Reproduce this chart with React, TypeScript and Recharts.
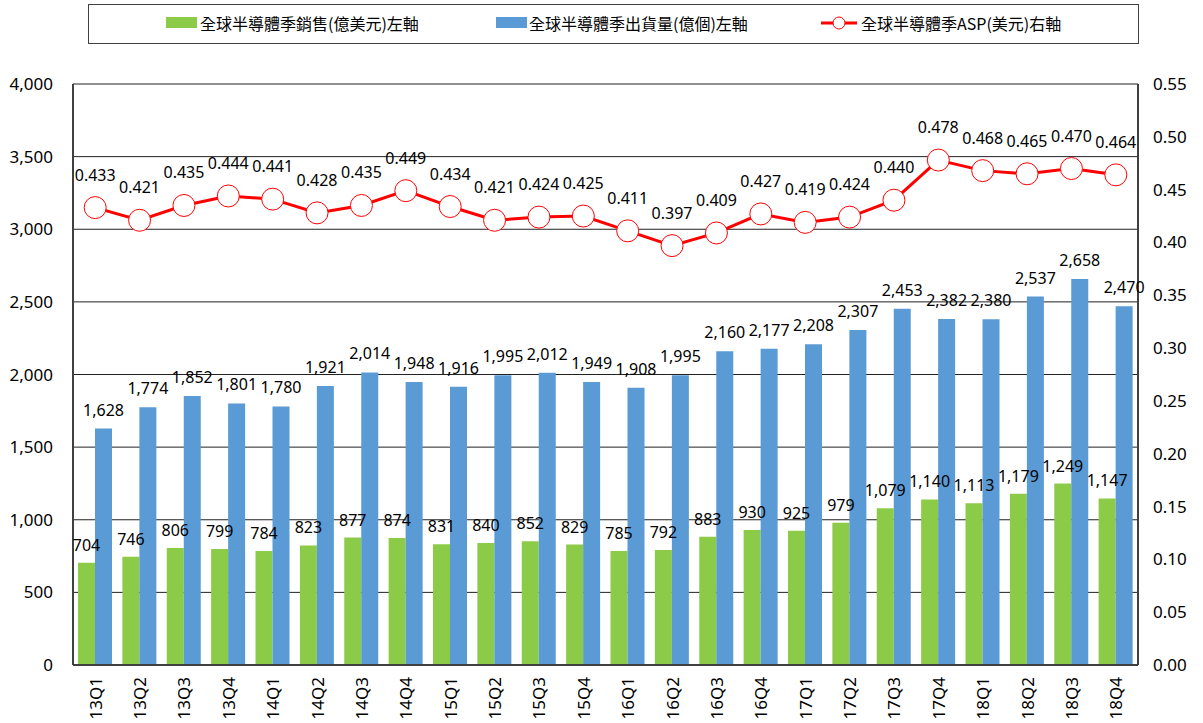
import React from 'react';
import { ComposedChart, Bar, Line, XAxis, YAxis, CartesianGrid, LabelList } from 'recharts';

const quarters = ['13Q1','13Q2','13Q3','13Q4','14Q1','14Q2','14Q3','14Q4','15Q1','15Q2','15Q3','15Q4','16Q1','16Q2','16Q3','16Q4','17Q1','17Q2','17Q3','17Q4','18Q1','18Q2','18Q3','18Q4'];
const sales = [704,746,806,799,784,823,877,874,831,840,852,829,785,792,883,930,925,979,1079,1140,1113,1179,1249,1147];
const units = [1628,1774,1852,1801,1780,1921,2014,1948,1916,1995,2012,1949,1908,1995,2160,2177,2208,2307,2453,2382,2380,2537,2658,2470];
const asp = [0.433,0.421,0.435,0.444,0.441,0.428,0.435,0.449,0.434,0.421,0.424,0.425,0.411,0.397,0.409,0.427,0.419,0.424,0.440,0.478,0.468,0.465,0.470,0.464];
const leftTicks = [0,500,1000,1500,2000,2500,3000,3500,4000];
const rightTicks = [0,0.05,0.1,0.15,0.2,0.25,0.3,0.35,0.4,0.45,0.5,0.55];
const legendLabels = ['全球半導體季銷售(億美元)左軸','全球半導體季出貨量(億個)左軸','全球半導體季ASP(美元)右軸'];

const data = quarters.map((q, i) => ({ q, sales: sales[i], units: units[i], asp: asp[i] }));

const FONT = '"Noto Sans", "Liberation Sans", sans-serif';
const CJK = '"Noto Sans CJK TC", "Noto Sans", sans-serif';
const GREEN = '#8CCB48';
const BLUE = '#5B9BD5';
const RED = '#FF0000';

const XTick = (props: any) => {
  const { x, y, payload } = props;
  const ty = y + 12;
  return (
    <text x={x} y={ty} transform={`rotate(-90, ${x}, ${ty})`} textAnchor="end" dominantBaseline="central"
      fontFamily={FONT} fontSize={17} fill="#000">{payload.value}</text>
  );
};

const fmtInt = (v: number) => v.toLocaleString('en-US');

export default function App() {
  return (
    <div style={{ position: 'absolute', left: 0, top: 0, width: 1203, height: 723, background: '#fff', overflow: 'hidden' }}>
      <div style={{ position: 'absolute', left: 88, top: 4, width: 1051, height: 40, border: '1px solid #404040', boxSizing: 'border-box' }} />
      <div style={{ position: 'absolute', left: 166, top: 17, width: 31, height: 11, background: GREEN }} />
      <div style={{ position: 'absolute', left: 200, top: 11, fontFamily: CJK, fontSize: 16, lineHeight: '24px', color: '#000', whiteSpace: 'nowrap' }}>{legendLabels[0]}</div>
      <div style={{ position: 'absolute', left: 496, top: 17, width: 31, height: 11, background: BLUE }} />
      <div style={{ position: 'absolute', left: 529, top: 11, fontFamily: CJK, fontSize: 16, lineHeight: '24px', color: '#000', whiteSpace: 'nowrap' }}>{legendLabels[1]}</div>
      <svg style={{ position: 'absolute', left: 820, top: 15 }} width={38} height={16}>
        <line x1={1} y1={8} x2={37} y2={8} stroke={RED} strokeWidth={3} />
        <circle cx={19} cy={8} r={6} fill="#fff" stroke={RED} strokeWidth={1} />
      </svg>
      <div style={{ position: 'absolute', left: 861, top: 11, fontFamily: CJK, fontSize: 16, lineHeight: '24px', color: '#000', whiteSpace: 'nowrap' }}>{legendLabels[2]}</div>

      <div style={{ position: 'absolute', left: 0, top: 0 }}>
        <ComposedChart width={1203} height={723} data={data} margin={{ top: 84, right: 0, bottom: 0, left: 0 }} barGap={0}>
          <CartesianGrid yAxisId="left" horizontal vertical={false} stroke="#222" strokeWidth={1} />
          <XAxis dataKey="q" height={58} tick={<XTick />} tickLine={false} tickSize={0} tickMargin={0} axisLine={{ stroke: '#404040', strokeWidth: 2 }} interval={0} />
          <YAxis yAxisId="left" orientation="left" width={73} domain={[0, 4000]} ticks={leftTicks} tickFormatter={fmtInt}
            tick={{ fontFamily: FONT, fontSize: 17, fill: '#000' }} tickLine={false} tickSize={0} tickMargin={20}
            axisLine={{ stroke: '#404040', strokeWidth: 2 }} interval={0} />
          <YAxis yAxisId="right" orientation="right" width={65} domain={[0, 0.55]} ticks={rightTicks} tickFormatter={(v: number) => v.toFixed(2)}
            tick={{ fontFamily: FONT, fontSize: 17, fill: '#000', textAnchor: 'start' }} tickLine={false} tickSize={0} tickMargin={15}
            axisLine={{ stroke: '#404040', strokeWidth: 2 }} interval={0} />
          <Bar yAxisId="left" dataKey="sales" fill={GREEN} barSize={17} isAnimationActive={false}>
            <LabelList dataKey="sales" position="top" offset={12} formatter={fmtInt} fontFamily={FONT} fontSize={16} fill="#000" />
          </Bar>
          <Bar yAxisId="left" dataKey="units" fill={BLUE} barSize={17} isAnimationActive={false}>
            <LabelList dataKey="units" position="top" offset={13} formatter={fmtInt} fontFamily={FONT} fontSize={16} fill="#000" />
          </Bar>
          <Line yAxisId="right" dataKey="asp" stroke={RED} strokeWidth={3} isAnimationActive={false}
            dot={{ r: 11, fill: '#fff', stroke: RED, strokeWidth: 1 }} activeDot={false}>
            <LabelList dataKey="asp" position="top" offset={27} formatter={(v: number) => v.toFixed(3)} fontFamily={FONT} fontSize={16} fill="#000" />
          </Line>
        </ComposedChart>
      </div>
    </div>
  );
}
